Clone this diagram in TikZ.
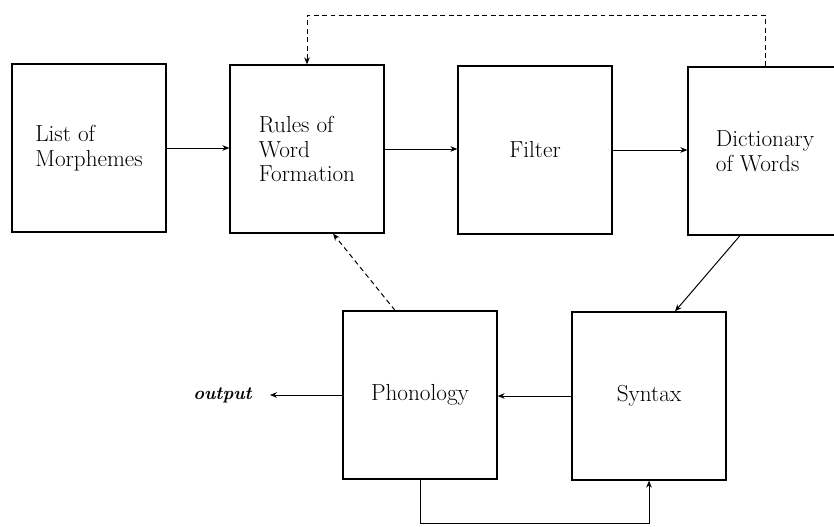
\documentclass[tikz,border=0pt]{standalone}
\usepackage{tikz}
\usetikzlibrary{arrows.meta, calc}
\tikzstyle{box} = [draw, line width=0.85pt, minimum width=3.85cm,
    minimum height=4.2cm, inner sep=0, align=left,
    font=\fontsize{16.5}{17.5}\selectfont]
\tikzstyle{arr} = [line width=0.7pt, -{Stealth[length=5pt,width=4pt]}]
\tikzstyle{darr} = [arr, dash pattern=on 3.5pt off 2.5pt]

\begin{document}
\begin{tikzpicture}[x=0.025cm, y=0.025cm]
\useasboundingbox (0,0) rectangle (834,-526);

    % 1. Place the upper row
    \node[box] (morph) at (89,-148) {List of\\Morphemes};
    \node[box] (rules) at (307,-149) {Rules of\\Word\\Formation};
    \node[box] (filter) at (535,-150) {Filter};
    \node[box] (dict) at (765,-151) {Dictionary\\of Words};

    % 2. Place the lower row
    \node[box] (phon) at (420,-395) {Phonology};
    \node[box] (syn) at (649,-396) {Syntax};
    \node[anchor=east, inner xsep=0.45cm,
        font=\fontsize{13}{15}\selectfont\bfseries\itshape] (out) at (270,-395) {output};

%%% UPPER ROW
\draw[arr] (morph.east) -- (morph.east -| rules.west);
\draw[arr] (rules.east) -- (rules.east -| filter.west);
\draw[arr] (filter.east) -- (filter.east -| dict.west);

% dashed loop back to the rules
\coordinate (top) at (0,-15);
\draw[darr] (dict.north) |- (top -| rules.north) -- (rules.north);

%%% LOWER ROW
\draw[arr] ($(dict.south)+(-25,0)$) -- ($(syn.north)+(26,0)$);
\draw[arr] (syn.west) -- (syn.west -| phon.east);
\draw[arr] (phon.west) -- (phon.west -| out.east);
\draw[darr] ($(phon.north)+(-25,0)$) -- ($(rules.south)+(26,0)$);

% loop under the boxes
\draw[arr] (phon.south) -- ++(0,-44) -| (syn.south);

\end{tikzpicture}
\end{document}
